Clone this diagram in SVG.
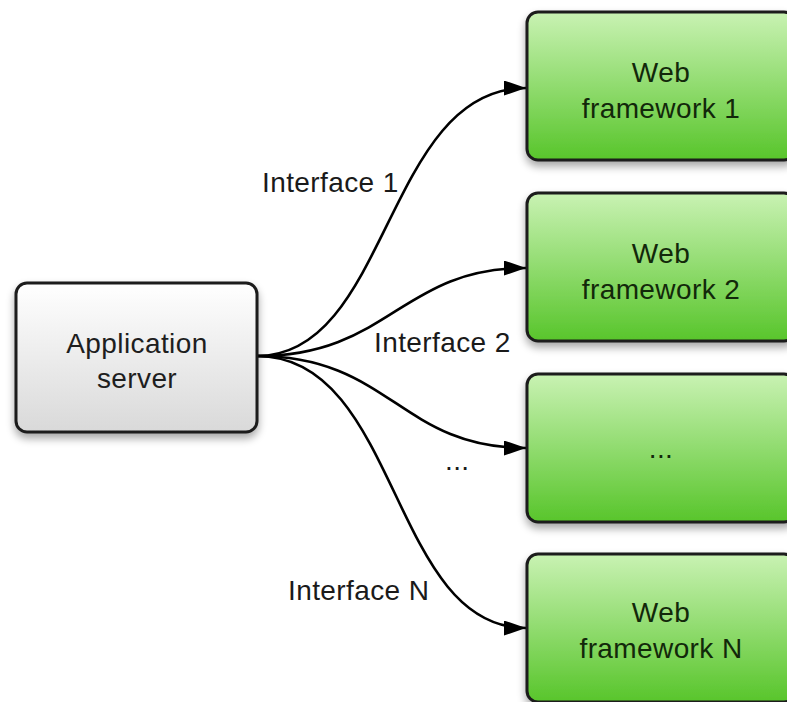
<svg xmlns="http://www.w3.org/2000/svg" width="787" height="702" viewBox="0 0 787 702">
<style>
text{font-family:"Liberation Sans",Arial,Helvetica,sans-serif;font-size:28px;letter-spacing:0.4px}
.lbl{fill:#1a1a1a}
.gt{fill:#12280a;text-anchor:middle}
.at{fill:#1e1e1e;text-anchor:middle}
.box{stroke:#1c1c1c;stroke-width:3}
.edge{fill:none;stroke:#000;stroke-width:2.6}
</style>
<defs>
<linearGradient id="gray" x1="0" y1="0" x2="0" y2="1">
<stop offset="0" stop-color="#ffffff"/>
<stop offset="1" stop-color="#d9d9d9"/>
</linearGradient>
<linearGradient id="green" x1="0" y1="0" x2="0" y2="1">
<stop offset="0" stop-color="#c9f2b3"/>
<stop offset="1" stop-color="#58c52b"/>
</linearGradient>
<filter id="sh" x="-10%" y="-10%" width="125%" height="130%">
<feGaussianBlur in="SourceAlpha" stdDeviation="4"/>
<feOffset dx="0" dy="5" result="b"/>
<feComponentTransfer><feFuncA type="linear" slope="0.35"/></feComponentTransfer>
<feMerge><feMergeNode/><feMergeNode in="SourceGraphic"/></feMerge>
</filter>
<marker id="arr" viewBox="0 0 22 15" refX="22" refY="7.5" markerWidth="22" markerHeight="15" markerUnits="userSpaceOnUse" orient="auto">
<path d="M0,0 L22,7.5 L0,15 Z" fill="#000"/>
</marker>
</defs>
<rect width="787" height="702" fill="#ffffff"/>
<g id="connectors">
<path class="edge" d="M257,356 C390,356 385,88 526,88" marker-end="url(#arr)"/>
<path class="edge" d="M257,356 C390,356 400,268 526,268" marker-end="url(#arr)"/>
<path class="edge" d="M257,356 C390,356 400,448 526,448" marker-end="url(#arr)"/>
<path class="edge" d="M257,356 C400,356 390,628 526,628" marker-end="url(#arr)"/>
<text class="lbl" x="262" y="192">Interface 1</text>
<text class="lbl" x="374" y="352">Interface 2</text>
<text class="lbl" x="445" y="470">...</text>
<text class="lbl" x="288" y="600">Interface N</text>
</g>
<g id="app-server">
<rect class="box" x="16" y="283" width="241" height="149" rx="11" fill="url(#gray)" filter="url(#sh)"/>
<text class="at" x="137" y="353">Application</text>
<text class="at" x="137" y="388">server</text>
</g>
<g id="web-framework-1">
<rect class="box" x="527" y="12" width="268" height="148" rx="11" fill="url(#green)" filter="url(#sh)"/>
<text class="gt" x="661" y="82">Web</text>
<text class="gt" x="661" y="118">framework 1</text>
</g>
<g id="web-framework-2">
<rect class="box" x="527" y="193" width="268" height="148" rx="11" fill="url(#green)" filter="url(#sh)"/>
<text class="gt" x="661" y="263">Web</text>
<text class="gt" x="661" y="299">framework 2</text>
</g>
<g id="web-framework-dots">
<rect class="box" x="527" y="374" width="268" height="148" rx="11" fill="url(#green)" filter="url(#sh)"/>
<text class="gt" x="661" y="458">...</text>
</g>
<g id="web-framework-n">
<rect class="box" x="527" y="554" width="268" height="148" rx="11" fill="url(#green)" filter="url(#sh)"/>
<text class="gt" x="661" y="622">Web</text>
<text class="gt" x="661" y="658">framework N</text>
</g>
</svg>
